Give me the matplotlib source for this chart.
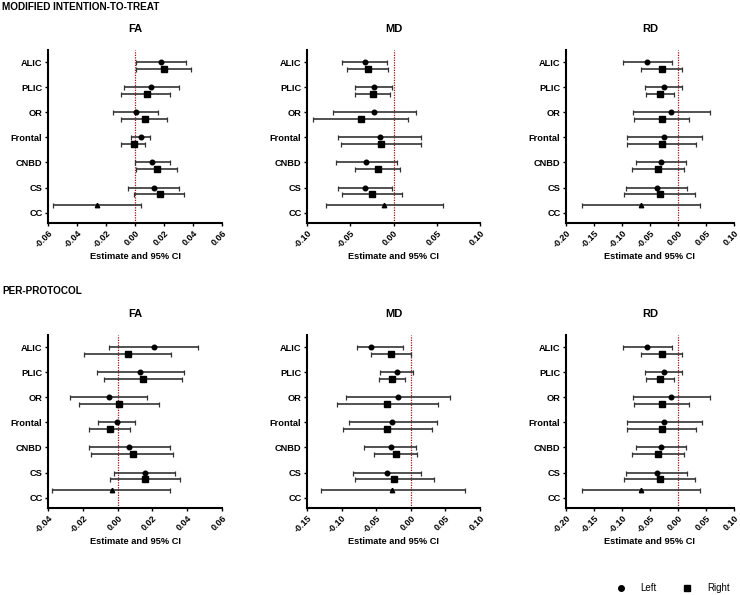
import numpy as np
import matplotlib
matplotlib.use("Agg")
import matplotlib.pyplot as plt

plt.rcParams["font.family"] = ["Liberation Sans", "DejaVu Sans"]

REGIONS = ["ALIC", "PLIC", "OR", "Frontal", "CNBD", "CS"]
YLABELS = REGIONS + ["CC"]

# (estimate, lower, upper) per region; left hemisphere, right hemisphere, CC
ITT_FA_LEFT = [(0.018, 0.001, 0.035), (0.011, -0.0074, 0.030), (0.0007, -0.015, 0.016),
               (0.004, -0.003, 0.010), (0.012, 0.0, 0.024), (0.013, -0.005, 0.030)]
ITT_FA_RIGHT = [(0.020, 0.001, 0.0385), (0.008, -0.0095, 0.024), (0.007, -0.0095, 0.022),
                (-0.001, -0.0095, 0.007), (0.015, 0.001, 0.029), (0.017, -0.001, 0.034)]
ITT_FA_CC = (-0.026, -0.0563, 0.004)

ITT_MD_LEFT = [(-0.033, -0.059, -0.008), (-0.023, -0.044, -0.0015), (-0.022, -0.0705, 0.026),
               (-0.016, -0.064, 0.0316), (-0.032, -0.066, 0.0035), (-0.033, -0.064, -0.0015)]
ITT_MD_RIGHT = [(-0.030, -0.054, -0.006), (-0.024, -0.044, -0.0035), (-0.038, -0.0925, 0.0166),
                (-0.014, -0.061, 0.032), (-0.018, -0.044, 0.008), (-0.025, -0.060, 0.010)]
ITT_MD_CC = (-0.011, -0.078, 0.057)

ITT_RD_LEFT = [(-0.055, -0.098, -0.0116), (-0.0255, -0.059, 0.008), (-0.012, -0.0807, 0.057),
               (-0.025, -0.091, 0.042), (-0.030, -0.075, 0.0145), (-0.038, -0.093, 0.016)]
ITT_RD_RIGHT = [(-0.029, -0.0667, 0.0075), (-0.032, -0.058, -0.0064), (-0.029, -0.078, 0.020),
                (-0.028, -0.091, 0.033), (-0.035, -0.083, 0.0116), (-0.033, -0.097, 0.030)]
ITT_RD_CC = (-0.066, -0.172, 0.039)

PP_FA_LEFT = [(0.0208, -0.0052, 0.046), (0.0127, -0.0121, 0.038), (-0.0052, -0.0274, 0.0171),
              (-0.0002, -0.0112, 0.010), (0.0067, -0.0162, 0.0299), (0.0158, -0.0021, 0.033)]
PP_FA_RIGHT = [(0.0058, -0.0195, 0.0306), (0.0148, -0.0081, 0.0368), (0.001, -0.0224, 0.024),
               (-0.0042, -0.0162, 0.0069), (0.0087, -0.0152, 0.032), (0.0158, -0.0042, 0.036)]
PP_FA_CC = (-0.0033, -0.0375, 0.030)

PP_MD_LEFT = [(-0.057, -0.078, -0.0106), (-0.020, -0.0443, 0.003), (-0.019, -0.093, 0.056),
              (-0.0265, -0.090, 0.038), (-0.029, -0.068, 0.008), (-0.034, -0.083, 0.015)]
PP_MD_RIGHT = [(-0.0284, -0.058, 0.0), (-0.0265, -0.0458, -0.0082), (-0.034, -0.106, 0.040),
               (-0.034, -0.098, 0.031), (-0.0217, -0.053, 0.009), (-0.0236, -0.080, 0.034)]
PP_MD_CC = (-0.0265, -0.130, 0.078)

PP_RD_LEFT = [(-0.055, -0.098, -0.0116), (-0.0255, -0.059, 0.008), (-0.012, -0.0807, 0.057),
              (-0.025, -0.091, 0.042), (-0.030, -0.075, 0.0145), (-0.038, -0.093, 0.016)]
PP_RD_RIGHT = [(-0.029, -0.0667, 0.0075), (-0.032, -0.058, -0.0064), (-0.029, -0.078, 0.020),
               (-0.028, -0.091, 0.033), (-0.035, -0.083, 0.0116), (-0.033, -0.097, 0.030)]
PP_RD_CC = (-0.066, -0.172, 0.039)

FA_TICKS_ITT = [-0.06, -0.04, -0.02, 0.0, 0.02, 0.04, 0.06]
MD_TICKS_ITT = [-0.10, -0.05, 0.0, 0.05, 0.10]
RD_TICKS = [-0.20, -0.15, -0.10, -0.05, 0.0, 0.05, 0.10]
FA_TICKS_PP = [-0.04, -0.02, 0.0, 0.02, 0.04, 0.06]
MD_TICKS_PP = [-0.15, -0.10, -0.05, 0.0, 0.05, 0.10]

W, H = 740, 595
fig = plt.figure(figsize=(W / 100, H / 100), dpi=100)

def ax_px(x0, y0, x1, y1):
    return fig.add_axes([x0 / W, 1 - y1 / H, (x1 - x0) / W, (y1 - y0) / H])

ERR = "#333333"
R_OFF, CC_OFF = 0.27, -0.29

def panel(ax, title, left, right, cc, ticks):
    pos = np.arange(len(left))
    for rows, off, mk, ms in [(left, 0.0, "o", 3.3), (right, R_OFF, "s", 3.7)]:
        est = np.array([r[0] for r in rows]); lo = np.array([r[1] for r in rows])
        hi = np.array([r[2] for r in rows])
        ax.errorbar(est, pos + off, xerr=[est - lo, hi - est], fmt="none", ecolor=ERR,
                    elinewidth=1.2, capsize=1.8, capthick=0.9, zorder=2)
        ax.plot(est, pos + off, mk, color="black", ms=ms, zorder=3, ls="none")
    ypc = len(left) + CC_OFF
    ax.errorbar([cc[0]], [ypc], xerr=[[cc[0] - cc[1]], [cc[2] - cc[0]]], fmt="none",
                ecolor=ERR, elinewidth=1.2, capsize=1.8, capthick=0.9, zorder=2)
    ax.plot([cc[0]], [ypc], "^", color="black", ms=3.2, zorder=3)
    ax.axvline(0, color="#a01010", ls=(0, (1, 1)), lw=0.9, zorder=1)
    ax.set_xlim(ticks[0], ticks[-1])
    ax.set_ylim(6.41, -0.48)
    ax.set_yticks(range(len(YLABELS)))
    ax.set_yticklabels(YLABELS, fontsize=6.7, fontweight="bold")
    ax.set_xticks(ticks)
    ax.set_xticklabels([f"{t:.2f}" for t in ticks], fontsize=6.5, fontweight="bold",
                       rotation=45, ha="right", rotation_mode="anchor")
    for s in ["top", "right"]:
        ax.spines[s].set_visible(False)
    for s in ["left", "bottom"]:
        ax.spines[s].set_linewidth(1.5)
    ax.tick_params(axis="both", length=2.5, width=1.0, pad=1.5)
    ax.set_title(title, fontsize=8, fontweight="bold", pad=13)
    ax.set_xlabel("Estimate and 95% CI", fontsize=6.7, fontweight="bold", labelpad=2)

cols = [(48, 222), (307, 480), (566, 734)]
top = (50, 223)
bot = (335, 508)

panel(ax_px(cols[0][0], top[0], cols[0][1], top[1]), "FA", ITT_FA_LEFT, ITT_FA_RIGHT, ITT_FA_CC, FA_TICKS_ITT)
panel(ax_px(cols[1][0], top[0], cols[1][1], top[1]), "MD", ITT_MD_LEFT, ITT_MD_RIGHT, ITT_MD_CC, MD_TICKS_ITT)
panel(ax_px(cols[2][0], top[0], cols[2][1], top[1]), "RD", ITT_RD_LEFT, ITT_RD_RIGHT, ITT_RD_CC, RD_TICKS)
panel(ax_px(cols[0][0], bot[0], cols[0][1], bot[1]), "FA", PP_FA_LEFT, PP_FA_RIGHT, PP_FA_CC, FA_TICKS_PP)
panel(ax_px(cols[1][0], bot[0], cols[1][1], bot[1]), "MD", PP_MD_LEFT, PP_MD_RIGHT, PP_MD_CC, MD_TICKS_PP)
panel(ax_px(cols[2][0], bot[0], cols[2][1], bot[1]), "RD", PP_RD_LEFT, PP_RD_RIGHT, PP_RD_CC, RD_TICKS)

fig.text(2 / W, 1 - 7 / H, "MODIFIED INTENTION-TO-TREAT", fontsize=7.2, fontweight="bold", va="center")
fig.text(2 / W, 1 - 291 / H, "PER-PROTOCOL", fontsize=7.2, fontweight="bold", va="center")

# legend
fig.lines.append(plt.Line2D([621 / W], [1 - 588 / H], marker="o", color="black", ms=4,
                            transform=fig.transFigure, ls="none"))
fig.text(640 / W, 1 - 588 / H, "Left", fontsize=7, va="center")
fig.lines.append(plt.Line2D([687 / W], [1 - 588 / H], marker="s", color="black", ms=4,
                            transform=fig.transFigure, ls="none"))
fig.text(707 / W, 1 - 588 / H, "Right", fontsize=7, va="center")

fig.savefig("out.png", dpi=100)
